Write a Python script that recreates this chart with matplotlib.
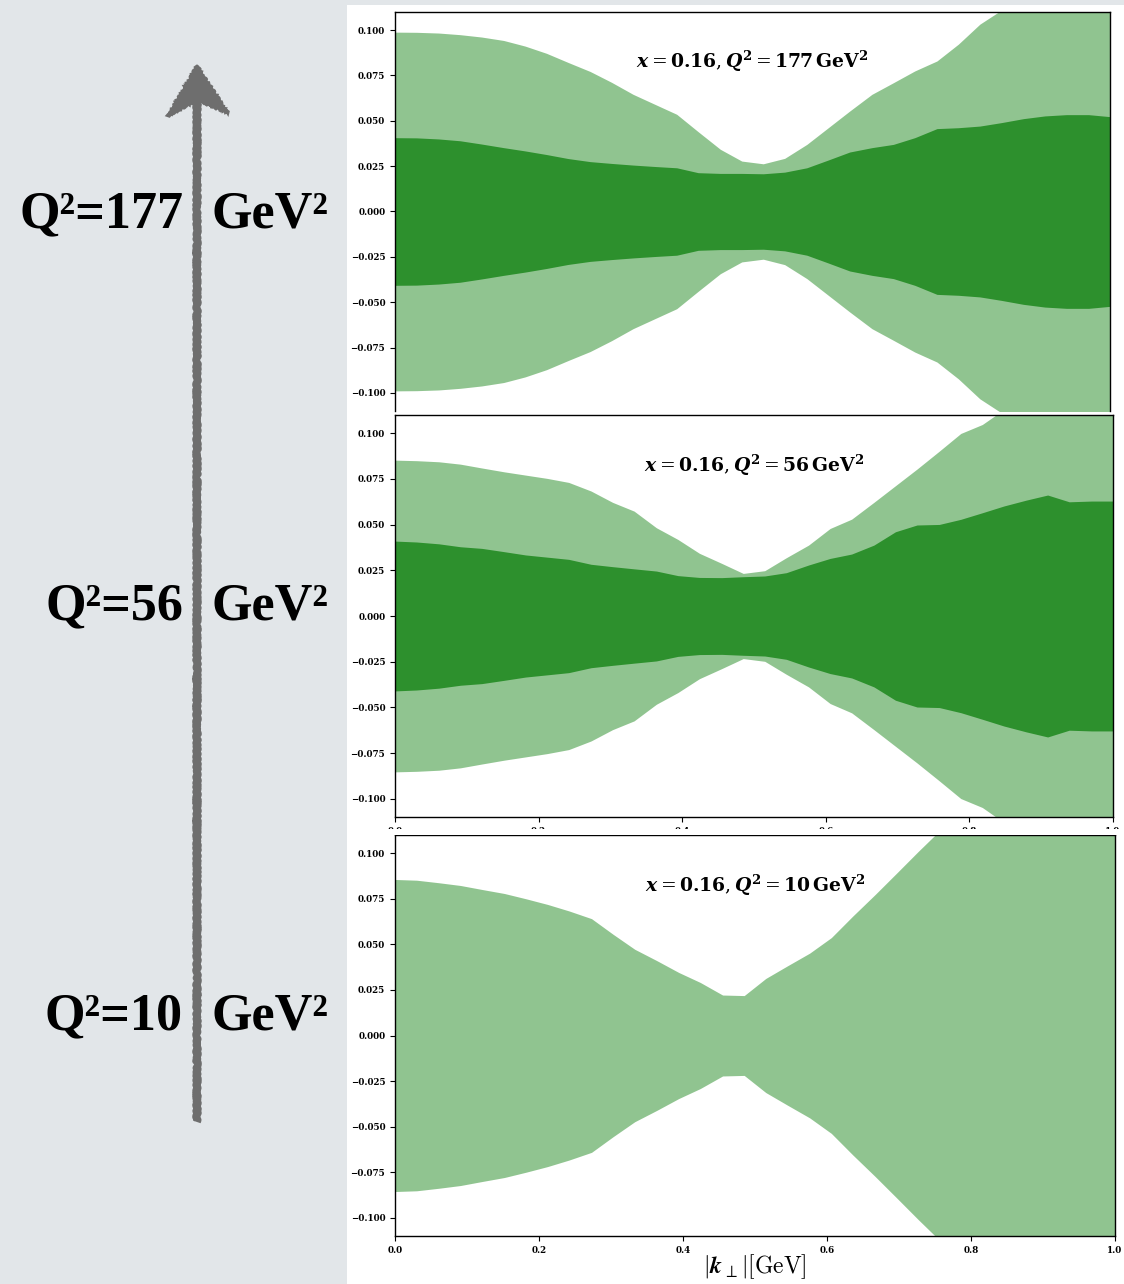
import numpy as np
import matplotlib
matplotlib.use('Agg')
import matplotlib.pyplot as plt
from matplotlib.patches import Rectangle, Polygon
from matplotlib.ticker import FuncFormatter

plt.rcParams['mathtext.fontset'] = 'cm'

# transverse momentum grid |k_perp| [GeV]
k_perp = np.array([0.000, 0.030, 0.061, 0.091, 0.121, 0.152, 0.182, 0.212, 0.242, 0.273,
                   0.303, 0.333, 0.364, 0.394, 0.424, 0.455, 0.485, 0.515, 0.545, 0.576,
                   0.606, 0.636, 0.667, 0.697, 0.727, 0.758, 0.788, 0.818, 0.848, 0.879,
                   0.909, 0.939, 0.970, 1.000])

q2_values = [177, 56, 10]

# half widths of the uncertainty bands (bands are symmetric around zero)
band_177_outer = [0.0989, 0.0988, 0.0984, 0.0975, 0.0962, 0.0943, 0.0912, 0.0872, 0.0822, 0.0772,
                  0.0712, 0.0646, 0.0590, 0.0536, 0.0440, 0.0343, 0.0278, 0.0263, 0.0293, 0.0370,
                  0.0462, 0.0554, 0.0646, 0.0710, 0.0775, 0.0830, 0.0923, 0.1033, 0.1110, 0.1190,
                  0.1270, 0.1350, 0.1430, 0.1510]
band_177_inner = [0.0407, 0.0406, 0.0400, 0.0390, 0.0372, 0.0352, 0.0334, 0.0314, 0.0292, 0.0275,
                  0.0265, 0.0256, 0.0248, 0.0241, 0.0214, 0.0210, 0.0210, 0.0208, 0.0217, 0.0241,
                  0.0284, 0.0328, 0.0352, 0.0370, 0.0407, 0.0457, 0.0462, 0.0471, 0.0490, 0.0512,
                  0.0527, 0.0534, 0.0534, 0.0523]

band_56_outer = [0.0853, 0.0850, 0.0844, 0.0831, 0.0810, 0.0789, 0.0771, 0.0753, 0.0731, 0.0684,
                 0.0622, 0.0574, 0.0483, 0.0419, 0.0343, 0.0288, 0.0233, 0.0248, 0.0319, 0.0388,
                 0.0479, 0.0530, 0.0622, 0.0713, 0.0804, 0.0902, 0.0999, 0.1048, 0.1130, 0.1210,
                 0.1290, 0.1370, 0.1450, 0.1530]
band_56_inner = [0.0410, 0.0405, 0.0395, 0.0379, 0.0370, 0.0352, 0.0334, 0.0322, 0.0310, 0.0283,
                 0.0270, 0.0258, 0.0246, 0.0221, 0.0211, 0.0210, 0.0215, 0.0219, 0.0237, 0.0279,
                 0.0315, 0.0339, 0.0388, 0.0461, 0.0498, 0.0501, 0.0529, 0.0565, 0.0602, 0.0634,
                 0.0662, 0.0625, 0.0629, 0.0629]

band_10_outer = [0.0856, 0.0852, 0.0838, 0.0823, 0.0801, 0.0779, 0.0750, 0.0719, 0.0683, 0.0641,
                 0.0555, 0.0473, 0.0410, 0.0346, 0.0291, 0.0222, 0.0219, 0.0313, 0.0382, 0.0452,
                 0.0537, 0.0656, 0.0774, 0.0892, 0.1011, 0.1130, 0.1250, 0.1370, 0.1490, 0.1610,
                 0.1730, 0.1850, 0.1970, 0.2090]

y_ticks = [-0.100, -0.075, -0.050, -0.025, 0.000, 0.025, 0.050, 0.075, 0.100]
x_ticks = [0.0, 0.2, 0.4, 0.6, 0.8, 1.0]

W, H = 1124, 1284
fig = plt.figure(figsize=(W / 100, H / 100), dpi=100, facecolor='#e2e6e9')

# pixel-space canvas underneath everything
bg = fig.add_axes([0, 0, 1, 1])
bg.set_xlim(0, W)
bg.set_ylim(H, 0)
bg.axis('off')
bg.set_zorder(-1)
bg.add_patch(Rectangle((347, 5), W - 347, H - 5, color='white', lw=0))

# hand drawn arrow
arrow_col = '#6e6e6e'
shaft, = bg.plot([197, 197], [1122, 98], color=arrow_col, lw=5.5, solid_capstyle='butt')
shaft.set_sketch_params(1.0, 6, 3)
head = Polygon([(197, 66), (168, 116), (197, 100), (228, 113)], closed=True,
               facecolor=arrow_col, edgecolor=arrow_col, lw=2)
head.set_sketch_params(1.0, 4, 3)
bg.add_patch(head)

label_font = dict(family='Liberation Serif', weight='bold', size=37.5, color='black')
for q2, base in zip(q2_values, [227, 619, 1029]):
    bg.text(183, base, f'Q\u00b2={q2}', ha='right', va='baseline', **label_font)
    bg.text(212, base, 'GeV\u00b2', ha='left', va='baseline', **label_font)


def px_rect(left, top, right, bottom):
    return [left / W, 1 - bottom / H, (right - left) / W, (bottom - top) / H]


def fmt_y(v, _):
    if abs(v) < 1e-9:
        v = 0.0
    return ('%.3f' % v).replace('-', '\u2212')


def fmt_x(v, _):
    return '%.1f' % v


panels = [
    (px_rect(395, 12, 1110, 411), 177, band_177_outer, band_177_inner),
    (px_rect(395, 415, 1113, 817), 56, band_56_outer, band_56_inner),
    (px_rect(395, 835, 1115, 1236), 10, band_10_outer, None),
]

axes = []
for rect, q2, outer, inner in panels:
    ax = fig.add_axes(rect)
    outer = np.array(outer)
    ax.fill_between(k_perp, -outer, outer, color='forestgreen', alpha=0.5, lw=0)
    if inner is not None:
        inner = np.array(inner)
        ax.fill_between(k_perp, -inner, inner, color='forestgreen', alpha=0.9, lw=0)
    ax.set_xlim(0, 1)
    ax.set_ylim(-0.11, 0.11)
    ax.set_yticks(y_ticks)
    ax.yaxis.set_major_formatter(FuncFormatter(fmt_y))
    ax.set_xticks(x_ticks)
    ax.xaxis.set_major_formatter(FuncFormatter(fmt_x))
    ax.tick_params(labelsize=6.3, length=3.5, width=0.8)
    for lbl in ax.get_xticklabels() + ax.get_yticklabels():
        lbl.set_fontfamily('DejaVu Serif')
        lbl.set_fontweight('bold')
    for s in ax.spines.values():
        s.set_linewidth(1.0)
    ax.text(0.5, 0.875,
            r'$\boldsymbol{x} = \mathbf{0.16}, \boldsymbol{Q}^{\mathbf{2}} = '
            r'\mathbf{%d}\,\mathbf{GeV}^{\mathbf{2}}$' % q2,
            transform=ax.transAxes, ha='center', va='center', fontsize=13.5,
            math_fontfamily='dejavuserif')
    axes.append(ax)

# top panel is cut off at the bottom
axes[0].spines['bottom'].set_visible(False)
axes[0].tick_params(axis='x', bottom=False, labelbottom=False)

axes[2].set_xlabel(r'$|\boldsymbol{k}_{\perp}|[\mathrm{GeV}]$', fontsize=17, labelpad=-2)

# strip hiding most of the middle panel's x tick labels
top = fig.add_axes([0, 0, 1, 1])
top.set_xlim(0, W)
top.set_ylim(H, 0)
top.axis('off')
top.set_zorder(5)
top.add_patch(Rectangle((360, 829), W - 360, 6, color='white', lw=0))

fig.savefig('out.png', dpi=100, facecolor=fig.get_facecolor())
